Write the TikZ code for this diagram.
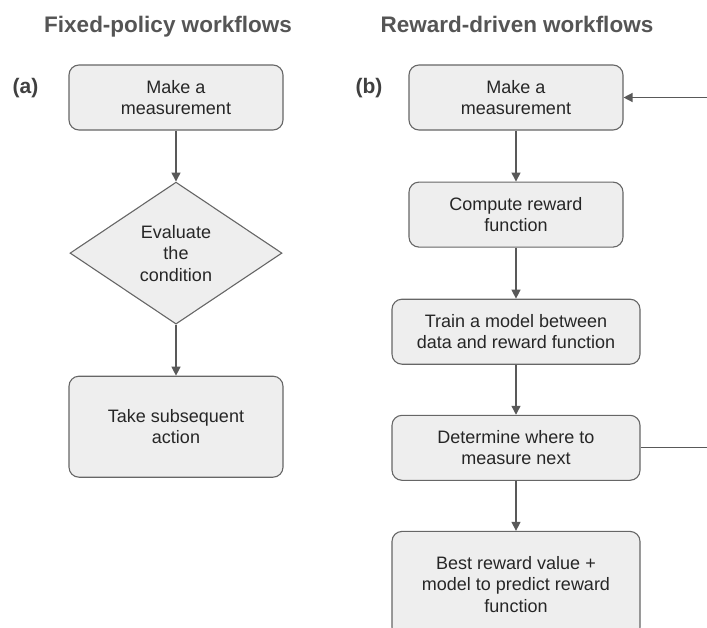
\documentclass[tikz,border=0pt]{standalone}
\usepackage{fontspec}
\setmainfont{Liberation Sans}
\usepackage{tikz}
\usetikzlibrary{arrows.meta,positioning,shapes.geometric}

\definecolor{boxfill}{HTML}{EEEEEE}
\definecolor{boxline}{HTML}{666666}
\definecolor{arrowgray}{HTML}{595959}
\definecolor{titlegray}{HTML}{555555}

\tikzset{
  proc/.style={draw=boxline, fill=boxfill, rounded corners=10pt, line width=1.1pt,
               align=center, text=black!85, font=\fontsize{18}{21.5}\selectfont,
               minimum width=214pt, minimum height=65pt, inner sep=0pt},
  wide/.style={minimum width=248pt},
  decision/.style={diamond, aspect=1.5, draw=boxline, fill=boxfill, line width=1.1pt,
                   align=center, text=black!85, font=\fontsize{18}{21.5}\selectfont,
                   minimum width=212pt, minimum height=142pt, inner sep=0pt},
  heading/.style={anchor=base, text=titlegray, font=\bfseries\fontsize{22.5}{27}\selectfont},
  tag/.style={anchor=base, text=black!75, font=\bfseries\fontsize{21}{25}\selectfont}
}

\begin{document}
\begin{tikzpicture}[x=1pt,y=-1pt,->,>={Triangle[length=9pt,width=9pt]},
                    node distance=51pt,line width=1.3pt,color=arrowgray]
  \useasboundingbox (0,0) rectangle (707,627);
  \clip (0,0) rectangle (707,627);

  \node[heading] (fixed)  at (168,32) {Fixed-policy workflows};
  \node[heading] (reward) at (517,32) {Reward-driven workflows};
  \node[tag] (a) at (25.5,93) {(a)};
  \node[tag] (b) at (369,93)  {(b)};

  % fixed policy
  \node[proc] (a1) at (176,97.5) {Make a\\measurement};
  \node[decision, below=of a1] (cond) {Evaluate\\the\\condition};
  \node[proc, minimum height=101pt, below=of cond] (a3) {Take subsequent\\action};

  % reward driven
  \node[proc] (b1) at (516,97.5) {Make a\\measurement};
  \node[proc, below=of b1] (b2) {Compute reward\\function};
  \node[proc, wide, below=of b2] (b3) {Train a model between\\data and reward function};
  \node[proc, wide, below=50pt of b3] (b4) {Determine where to\\measure next};
  \node[proc, wide, minimum height=106pt, below=50pt of b4] (b5)
       {Best reward value +\\model to predict reward\\function};

  \coordinate (loopX) at (730,0);

  \path (a1)   edge (cond)
        (cond) edge (a3)
        (b1)   edge (b2)
        (b2)   edge (b3)
        (b3)   edge (b4)
        (b4)   edge (b5);
  \draw (b4.east) -- (b4.east -| loopX) -- (b1.east -| loopX) -- (b1.east);
\end{tikzpicture}
\end{document}
